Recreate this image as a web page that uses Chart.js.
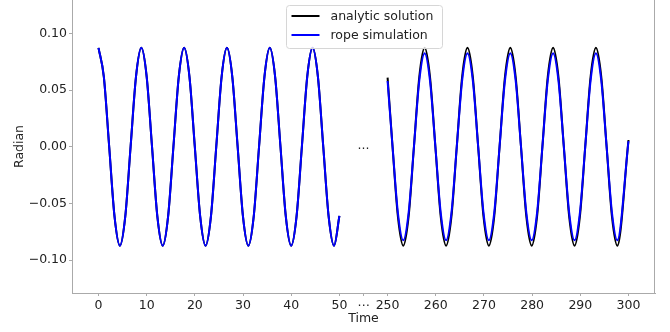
<!DOCTYPE html>
<html>
<head>
<meta charset="utf-8">
<script src="https://cdn.jsdelivr.net/npm/chart.js@4.4.1/dist/chart.umd.min.js"></script>
<style>
  html, body { margin: 0; padding: 0; background: #fff; }
  #wrap { width: 670px; height: 332px; }
</style>
</head>
<body>
<div id="wrap"><canvas id="pendulum_chart" width="670" height="332"></canvas></div>
<script>
// time samples, first window 0..50
var leftTime = [0, 1.11, 2.22, 3.33, 4.44, 5.55, 6.66, 7.78, 8.89, 10.00,
    11.11, 12.22, 13.33, 14.44, 15.55, 16.66, 17.77, 18.88, 19.99, 21.11,
    22.22, 23.33, 24.44, 25.55, 26.66, 27.77, 28.88, 29.99, 31.10, 32.21,
    33.32, 34.44, 35.55, 36.66, 37.77, 38.88, 39.99, 41.10, 42.21, 43.32,
    44.43, 45.54, 46.65, 47.77, 48.88, 50];

// time samples, second window 250..300
var rightTime = [250, 251.03, 252.14, 253.25, 254.36, 255.47, 256.58, 257.69,
    258.80, 259.92, 261.03, 262.14, 263.25, 264.36, 265.47, 266.58, 267.69,
    268.80, 269.91, 271.02, 272.13, 273.24, 274.36, 275.47, 276.58, 277.69,
    278.80, 279.91, 281.02, 282.13, 283.24, 284.35, 285.46, 286.58, 287.69,
    288.80, 289.91, 291.02, 292.13, 293.24, 294.35, 295.46, 296.57, 297.68, 300];

var analyticLeft = [0.0873, 0.0617, 0, -0.0617, -0.0873, -0.0617, 0, 0.0617,
    0.0873, 0.0617, 0, -0.0617, -0.0873, -0.0617, 0, 0.0617,
    0.0873, 0.0617, 0, -0.0617, -0.0873, -0.0617, 0, 0.0617,
    0.0873, 0.0617, 0, -0.0617, -0.0873, -0.0617, 0, 0.0617,
    0.0873, 0.0617, 0, -0.0617, -0.0873, -0.0617, 0, 0.0617,
    0.0873, 0.0617, 0, -0.0617, -0.0873, -0.061];

var ropeLeft = [0.0873, 0.0617, 0, -0.0617, -0.0873, -0.0617, 0, 0.0617,
    0.0873, 0.0617, 0, -0.0617, -0.0873, -0.0617, 0, 0.0617,
    0.0873, 0.0617, 0, -0.0617, -0.0873, -0.0617, 0, 0.0617,
    0.0873, 0.0617, 0, -0.0617, -0.0873, -0.0617, 0, 0.0617,
    0.0873, 0.0617, 0, -0.0617, -0.0873, -0.0617, 0, 0.0617,
    0.0873, 0.0617, 0, -0.0617, -0.0873, -0.061];

var analyticRight = [0.061, 0, -0.0617, -0.0873, -0.0617, 0, 0.0617, 0.0873,
    0.0617, 0, -0.0617, -0.0873, -0.0617, 0, 0.0617, 0.0873,
    0.0617, 0, -0.0617, -0.0873, -0.0617, 0, 0.0617, 0.0873,
    0.0617, 0, -0.0617, -0.0873, -0.0617, 0, 0.0617, 0.0873,
    0.0617, 0, -0.0617, -0.0873, -0.0617, 0, 0.0617, 0.0873,
    0.0617, 0, -0.0617, -0.0873, 0.006];

var ropeRight = [0.058, 0, -0.0583, -0.0825, -0.0583, 0, 0.0583, 0.0825,
    0.0583, 0, -0.0583, -0.0825, -0.0583, 0, 0.0583, 0.0825,
    0.0583, 0, -0.0583, -0.0825, -0.0583, 0, 0.0583, 0.0825,
    0.0583, 0, -0.0583, -0.0825, -0.0583, 0, 0.0583, 0.0825,
    0.0583, 0, -0.0583, -0.0825, -0.0583, 0, 0.0583, 0.0825,
    0.0583, 0, -0.0583, -0.0825, 0.005];

// axis ticks (x positions are on the squeezed axis, 250 sits at 60)
var xTickPos = [0, 10, 20, 30, 40, 50, 55, 60, 70, 80, 90, 100, 110];
var xTickLabels = ['0', '10', '20', '30', '40', '50', '\u22EF', '250', '260', '270', '280', '290', '300'];
var yTickValues = [-0.10, -0.05, 0, 0.05, 0.10];

var GAP = 190;   // second window is shifted left so that it starts at 60
var spineColor = '#aaaaaa';
var textColor = '#222222';
var fontFamily = '"DejaVu Sans", sans-serif';

function toPoints(times, values) {
    return times.map(function (t, i) {
        return { x: t > 100 ? t - GAP : t, y: values[i] };
    });
}

var analyticData = toPoints(leftTime, analyticLeft).concat([{ x: 55, y: null }], toPoints(rightTime, analyticRight));
var ropeData = toPoints(leftTime, ropeLeft).concat([{ x: 55, y: null }], toPoints(rightTime, ropeRight));

// right spine, "..." marker and boxed legend inside the plot
var extras = {
    id: 'extras',
    afterDatasetsDraw: function (chart) {
        var ctx = chart.ctx, area = chart.chartArea;
        ctx.save();
        ctx.strokeStyle = spineColor;
        ctx.lineWidth = 1;
        ctx.beginPath();
        ctx.moveTo(area.right - 0.5, area.top);
        ctx.lineTo(area.right - 0.5, area.bottom);
        ctx.stroke();

        ctx.font = '12.5px ' + fontFamily;
        ctx.fillStyle = textColor;
        ctx.textAlign = 'center';
        ctx.textBaseline = 'alphabetic';
        ctx.fillText('...', chart.scales.x.getPixelForValue(55), chart.scales.y.getPixelForValue(0) + 2);

        var w = 156, h = 43;
        var bx = Math.round((area.left + area.right) / 2 - w / 2) + 0.5;
        var by = area.top + 5.5;
        ctx.fillStyle = 'rgba(255,255,255,0.8)';
        ctx.strokeStyle = '#d6d6d6';
        ctx.beginPath();
        ctx.roundRect(bx, by, w, h, 3);
        ctx.fill();
        ctx.stroke();

        ctx.textAlign = 'left';
        ctx.textBaseline = 'middle';
        chart.data.datasets.forEach(function (ds, i) {
            var ry = by + 10.5 + i * 19;
            ctx.strokeStyle = ds.borderColor;
            ctx.lineWidth = 2;
            ctx.beginPath();
            ctx.moveTo(bx + 5, ry);
            ctx.lineTo(bx + 33, ry);
            ctx.stroke();
            ctx.fillStyle = textColor;
            ctx.fillText(ds.label, bx + 44, ry + 1);
        });
        ctx.restore();
    }
};

Chart.defaults.font.family = fontFamily;
Chart.defaults.font.size = 12.5;
Chart.defaults.color = textColor;

var pendulum_chart = new Chart(document.getElementById('pendulum_chart'), {
    type: 'line',
    data: {
        datasets: [{
            label: 'analytic solution',
            data: analyticData,
            borderColor: '#000000',
            borderWidth: 2,
            pointRadius: 0,
            cubicInterpolationMode: 'monotone',
            spanGaps: false,
            order: 1,
        },
        {
            label: 'rope simulation',
            data: ropeData,
            borderColor: '#0000ff',
            borderWidth: 2,
            pointRadius: 0,
            cubicInterpolationMode: 'monotone',
            spanGaps: false,
            order: 0,
        }]
    },
    options: {
        responsive: false,
        animation: false,
        devicePixelRatio: 1,
        layout: { padding: { left: 0, top: 0, right: 15, bottom: 0 } },
        plugins: {
            legend: { display: false },
            tooltip: { enabled: false },
        },
        scales: {
            x: {
                type: 'linear',
                min: -5.5,
                max: 115.5,
                border: { display: true, color: spineColor },
                grid: { display: true, drawOnChartArea: false, drawTicks: true, tickLength: 3, color: spineColor },
                ticks: {
                    autoSkip: false,
                    maxRotation: 0,
                    padding: 2,
                    callback: function (value, index) { return xTickLabels[index]; }
                },
                afterBuildTicks: function (scale) {
                    scale.ticks = xTickPos.map(function (v) { return { value: v }; });
                },
                afterFit: function (scale) {
                    scale.height = 39;
                    scale.paddingLeft = 0;
                    scale.paddingRight = 0;
                },
                title: { display: true, text: 'Time', padding: { top: 0, bottom: 5.5 } }
            },
            y: {
                type: 'linear',
                min: -0.129,
                max: 0.1295,
                border: { display: true, color: spineColor },
                grid: { display: true, drawOnChartArea: false, drawTicks: true, tickLength: 3, color: spineColor },
                ticks: {
                    padding: 2,
                    callback: function (v) { return (v < 0 ? '\u2212' : '') + Math.abs(v).toFixed(2); }
                },
                afterBuildTicks: function (scale) {
                    scale.ticks = yTickValues.map(function (v) { return { value: v }; });
                },
                afterFit: function (scale) {
                    scale.width = 72;
                    scale.paddingTop = 0;
                    scale.paddingBottom = 0;
                },
                title: { display: true, text: 'Radian', padding: { top: 12, bottom: 0 } }
            }
        }
    },
    plugins: [extras]
});
</script>
</body>
</html>
